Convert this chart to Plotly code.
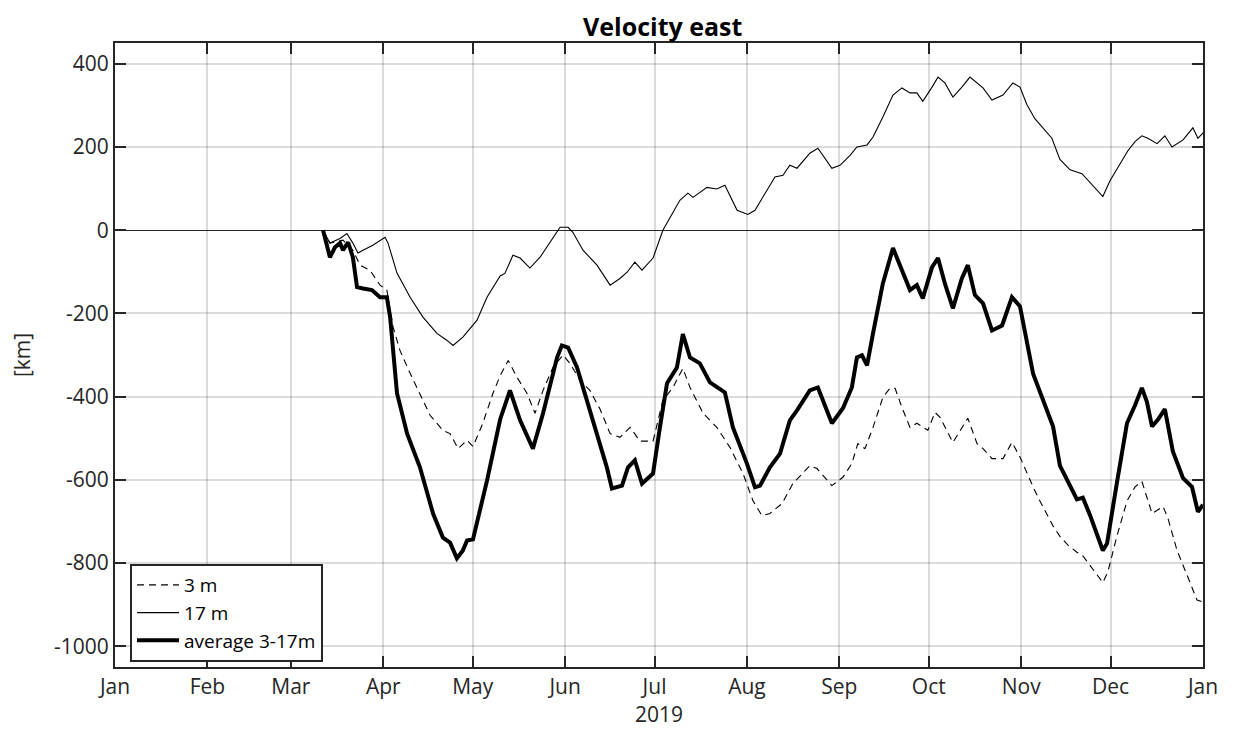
import pandas as pd
import plotly.graph_objects as go

# day of year 2019 (0 = Jan 1) and cumulative displacement [km]
days_3m = [69.8, 72.1, 76.5, 79.8, 82.2, 85.5, 88.9, 91.2, 93.3, 95.6, 99.0, 102.3, 105.7, 110.0,
           112.4, 115.1, 118.1, 120.1, 123.4, 126.8, 129.2, 131.9, 134.9, 138.2, 140.9, 143.6,
           146.9, 150.3, 152.6, 156.0, 159.3, 162.7, 166.1, 169.4, 172.8, 176.1, 180.5, 183.8,
           187.2, 190.5, 192.9, 197.3, 201.9, 206.3, 210.7, 214.0, 217.0, 219.7, 223.8, 227.4,
           233.1, 235.5, 240.5, 244.2, 247.2, 249.2, 251.6, 254.3, 257.6, 260.0, 261.7, 264.0,
           266.7, 269.0, 272.7, 275.1, 276.8, 281.1, 284.1, 286.1, 289.2, 291.2, 294.2, 297.9,
           300.9, 302.9, 303.6, 308.0, 310.3, 314.7, 317.0, 319.7, 322.7, 324.7, 327.7, 331.4,
           333.1, 336.1, 339.5, 342.2, 344.5, 346.2, 347.9, 349.9, 351.6, 353.3, 356.3, 359.7,
           363.0, 365.0]
vals_3m = [0, -31, -24, -48, -84, -96, -132, -144, -233, -289, -344, -392, -445, -481,
           -489, -525, -505, -520, -464, -392, -350, -313, -354, -392, -440, -385,
           -330, -300, -320, -361, -385, -430, -489, -498, -474, -507, -507, -409,
           -378, -332, -378, -440, -474, -522, -585, -650, -686, -681, -657, -609,
           -566, -573, -614, -594, -561, -513, -525, -474, -402, -380, -380, -426,
           -474, -464, -481, -438, -450, -510, -474, -452, -513, -525, -549, -549,
           -510, -534, -545, -617, -651, -711, -736, -757, -774, -783, -813, -847,
           -821, -736, -651, -617, -604, -643, -681, -672, -664, -694, -770, -830,
           -889, -894]

days_17m = [69.8, 72.1, 75.5, 77.8, 79.8, 81.5, 83.2, 86.5, 90.6, 91.6, 94.6, 99.0, 103.3, 108.0,
            111.4, 113.4, 116.7, 121.4, 124.8, 129.2, 130.8, 133.5, 135.9, 139.2, 142.6, 145.9,
            149.3, 152.0, 153.6, 157.0, 161.7, 166.1, 169.4, 171.8, 174.4, 176.8, 180.5, 183.8,
            186.2, 189.5, 192.2, 193.9, 198.6, 201.9, 204.6, 208.7, 212.3, 214.7, 221.4, 224.1,
            226.4, 228.8, 233.1, 235.8, 240.5, 243.2, 246.6, 248.9, 252.3, 254.3, 257.6, 261.0,
            264.0, 266.7, 269.0, 271.0, 274.1, 276.1, 278.4, 281.1, 284.1, 286.8, 291.2, 294.2,
            297.9, 301.2, 303.6, 305.9, 308.6, 314.3, 317.0, 320.4, 324.4, 327.1, 331.4, 333.8,
            337.1, 339.8, 342.2, 344.5, 346.5, 349.6, 352.2, 354.6, 358.3, 361.6, 363.3, 365.0]
vals_17m = [0, -31, -20, -8, -31, -55, -48, -36, -17, -31, -103, -161, -209, -248,
            -265, -277, -257, -217, -161, -110, -104, -60, -67, -91, -65, -31,
            7, 7, -5, -48, -84, -132, -116, -101, -77, -96, -67, 0,
            31, 72, 89, 79, 103, 99, 108, 48, 38, 48, 128, 132,
            156, 149, 185, 197, 149, 156, 180, 200, 205, 224, 272, 325,
            342, 330, 330, 310, 344, 368, 354, 320, 344, 368, 342, 313,
            325, 354, 344, 302, 268, 221, 170, 145, 136, 115, 81, 119,
            157, 191, 213, 227, 221, 208, 227, 200, 217, 246, 221, 234]

days_avg = [69.8, 72.1, 73.8, 75.5, 76.5, 78.2, 79.8, 81.2, 83.2, 86.2, 88.9, 91.2, 92.3, 94.6,
            98.0, 102.3, 106.7, 110.0, 112.4, 114.7, 116.7, 118.1, 120.1, 124.8, 129.2, 132.5,
            135.9, 140.2, 143.6, 148.3, 149.9, 152.0, 155.0, 158.3, 161.7, 165.0, 166.7, 170.1,
            172.1, 174.4, 176.8, 180.5, 182.8, 185.2, 188.5, 190.5, 192.9, 196.2, 199.6, 204.6,
            207.3, 212.0, 214.7, 216.4, 219.7, 223.1, 226.4, 228.8, 233.1, 235.8, 240.5, 244.2,
            247.2, 248.9, 250.6, 252.3, 254.3, 257.6, 261.0, 264.3, 266.7, 269.0, 271.0, 274.1,
            276.1, 278.4, 281.1, 284.1, 286.1, 288.5, 291.2, 294.2, 297.6, 300.9, 303.6, 308.0,
            314.7, 317.0, 320.4, 322.7, 324.7, 327.1, 331.4, 332.8, 336.1, 339.5, 342.2, 344.5,
            346.2, 347.9, 349.9, 352.2, 354.9, 358.3, 361.3, 363.3, 365.0]
vals_avg = [0, -65, -41, -31, -48, -29, -65, -137, -140, -144, -161, -161, -209, -392,
            -489, -570, -681, -739, -751, -789, -770, -746, -743, -602, -455, -385,
            -457, -525, -440, -306, -277, -282, -330, -409, -498, -570, -621, -614,
            -570, -553, -609, -585, -474, -368, -330, -250, -306, -320, -366, -390,
            -474, -561, -618, -614, -570, -537, -457, -433, -385, -378, -464, -428,
            -378, -306, -301, -325, -248, -128, -43, -103, -144, -132, -164, -89,
            -67, -128, -188, -116, -84, -156, -176, -241, -229, -161, -183, -345,
            -472, -566, -617, -647, -643, -685, -770, -753, -608, -464, -421, -379,
            -413, -472, -455, -430, -532, -596, -617, -677, -660]

month_ticks = ["2019-01-01", "2019-02-01", "2019-03-01", "2019-04-01", "2019-05-01", "2019-06-01",
               "2019-07-01", "2019-08-01", "2019-09-01", "2019-10-01", "2019-11-01", "2019-12-01",
               "2020-01-01"]
month_labels = ["Jan", "Feb", "Mar", "Apr", "May", "Jun", "Jul", "Aug", "Sep", "Oct", "Nov", "Dec", "Jan"]
y_ticks = [400, 200, 0, -200, -400, -600, -800, -1000]
y_labels = ["400", "200", "0", "-200", "-400", "-600", "-800", "-1000"]

base = pd.Timestamp("2019-01-01")


def to_dates(d):
    return base + pd.to_timedelta(d, unit="D")


FONT = "Open Sans, DejaVu Sans, sans-serif"
TXT = "#262626"

fig = go.Figure()
fig.add_trace(go.Scatter(x=to_dates(days_3m), y=vals_3m, mode="lines", name="3 m",
                         line=dict(color="black", width=1.1, dash="7px,5px"), legendgroup="a"))
fig.add_trace(go.Scatter(x=to_dates(days_17m), y=vals_17m, mode="lines", name="17 m",
                         line=dict(color="black", width=1.1), legendgroup="b"))
fig.add_trace(go.Scatter(x=to_dates(days_avg), y=vals_avg, mode="lines", name="average 3-17m",
                         line=dict(color="black", width=4), legendgroup="c"))

fig.update_layout(
    width=1226, height=727,
    margin=dict(l=107, r=31, t=35, b=68),
    paper_bgcolor="white", plot_bgcolor="white",
    font=dict(family=FONT, size=21, color=TXT),
    title=dict(text="<b>Velocity east</b>", x=0.534, xanchor="center", y=0.973, yanchor="middle",
               font=dict(family=FONT, size=25, color="black")),
    showlegend=True,
    legend=dict(x=0.0138, y=0.165, xanchor="left", yanchor="top",
                bgcolor="white", bordercolor=TXT, borderwidth=2,
                font=dict(family=FONT, size=19, color="black"),
                tracegroupgap=0, itemwidth=42),
)
fig.update_xaxes(
    type="date", range=["2019-01-01", "2020-01-01"],
    tickmode="array", tickvals=month_ticks, ticktext=month_labels,
    ticks="inside", ticklen=11, tickwidth=2, tickcolor=TXT,
    showline=True, linecolor=TXT, linewidth=2, mirror="ticks",
    showgrid=True, gridcolor="rgba(0,0,0,0.14)", gridwidth=1.5,
    title=dict(text="2019", font=dict(family=FONT, size=21, color=TXT), standoff=2),
    zeroline=False,
)
fig.update_yaxes(
    range=[-1050, 450],
    tickmode="array", tickvals=y_ticks, ticktext=y_labels,
    ticks="inside", ticklen=11, tickwidth=2, tickcolor=TXT,
    showline=True, linecolor=TXT, linewidth=2, mirror="ticks",
    showgrid=True, gridcolor="rgba(0,0,0,0.14)", gridwidth=1.5,
    zeroline=True, zerolinecolor=TXT, zerolinewidth=1.2,
    title=dict(text="[km]", font=dict(family=FONT, size=21, color=TXT), standoff=20),
)

fig.write_html("out.html")
